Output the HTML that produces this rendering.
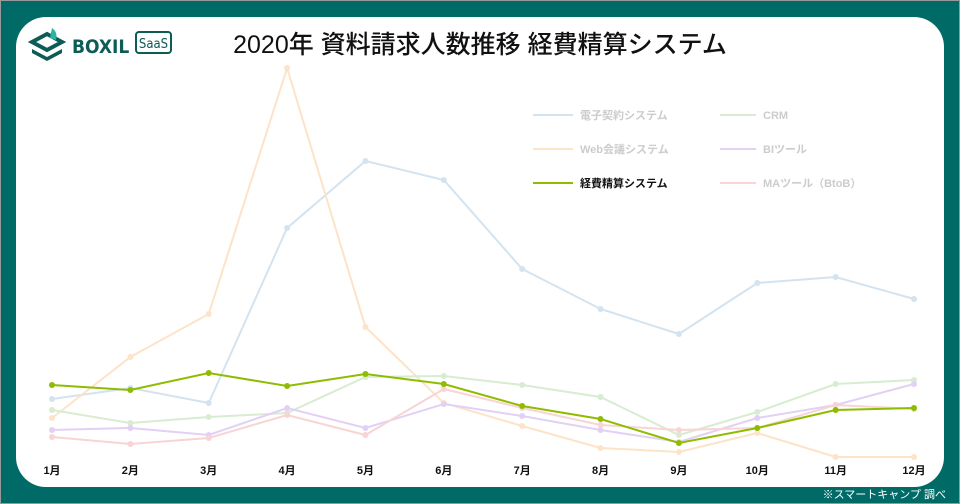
<!DOCTYPE html>
<html><head><meta charset="utf-8"><style>
html,body{margin:0;padding:0;}
body{width:960px;height:504px;background:#006a66;position:relative;overflow:hidden;font-family:"Liberation Sans","Noto Sans CJK JP",sans-serif;}
#frame{position:absolute;left:0;top:0;width:958px;height:502px;border:1px solid #999;}
#card{position:absolute;left:16px;top:17px;width:928px;height:470px;background:#fff;border-radius:30px;}
svg{position:absolute;left:0;top:0;}
</style></head><body>
<div id="frame"></div>
<div id="card"></div>
<svg id="chart" width="960" height="504">
<g>
<polygon points="32,42 47,34 62,42 47,50" fill="none" stroke="#0d5c56" stroke-width="4"/>
<polygon points="32,49 47,57 62,49 62,53 47,61 32,53" fill="#0d5c56"/>
<path d="M52,28 q6,4 4,12 l-6,-2 z" fill="#2bb3a3"/>
<text x="72" y="53" font-size="19" font-weight="bold" fill="#0d5c56" font-family="'DejaVu Sans Condensed','Liberation Sans',sans-serif">BOXIL</text>
<rect x="136" y="32" width="35" height="21" rx="3" fill="none" stroke="#0d5c56" stroke-width="2"/>
<text x="153.5" y="48" font-size="13" font-weight="500" fill="#0d5c56" text-anchor="middle" font-family="'DejaVu Sans Condensed','Liberation Sans',sans-serif">SaaS</text>
</g>
<text x="480" y="53" font-size="25" font-weight="500" text-anchor="middle" fill="#111">2020年 資料請求人数推移 経費精算システム</text>
<text x="946" y="498" font-size="11" fill="#fff" text-anchor="end">※スマートキャンプ 調べ</text>
<g id="legend"></g>
<g id="xaxis"></g>
<g id="series"></g>
</svg>
<script>
const months=["1月","2月","3月","4月","5月","6月","7月","8月","9月","10月","11月","12月"];
const denshi=[61,72,57,232,299,280,191,151,126,177,183,161];
const web=[42,103,146,392,133,57,34,12,8,27,3,3];
const crm=[50,37,43,47,83,84,75,63,25,48,76,80];
const bi=[30,32,25,52,32,56,44,30,18,42,55,76];
const ma=[23,16,22,45,25,71,52,35,30,32,55,51];
const keihi=[75,70,87,74,86,76,54,41,17,32,50,52];
const seriesNames=["電子契約システム","Web会議システム","経費精算システム","CRM","BIツール","MAツール（BtoB）"];
const NS="http://www.w3.org/2000/svg";
const xScale=i=>52+i*(914-52)/11;
const yScale=v=>460-v;
function mk(tag,attrs,parent){const e=document.createElementNS(NS,tag);for(const k in attrs)e.setAttribute(k,attrs[k]);parent.appendChild(e);return e;}
const xg=document.getElementById('xaxis');
months.forEach((m,i)=>{const t=mk('text',{x:xScale(i),y:474,'font-size':11,'font-weight':'bold','text-anchor':'middle',fill:'#111'},xg);t.textContent=m;

});
const defs=[
 {d:denshi,c:"#d3e3ef",w:2,n:"series-denshi-keiyaku"},
 {d:web,c:"#fde3c8",w:2,n:"series-web-kaigi"},
 {d:crm,c:"#d8ecd2",w:2,n:"series-crm"},
 {d:bi,c:"#e3d0f5",w:2,n:"series-bi-tool"},
 {d:ma,c:"#f8d4d4",w:2,n:"series-ma-tool"},
 {d:keihi,c:"#8fbc00",w:2,n:"series-keihi-seisan"}];
const sg=document.getElementById('series');
defs.forEach(s=>{const g=mk('g',{},sg);


mk('polyline',{points:s.d.map((v,i)=>xScale(i)+','+yScale(v)).join(' '),fill:'none',stroke:s.c,'stroke-width':s.w},g);
s.d.forEach((v,i)=>{const c=mk('circle',{cx:xScale(i),cy:yScale(v),r:3,fill:s.c},g);

});});
const lg=document.getElementById('legend');
const lcolors=["#d3e3ef","#fde3c8","#8fbc00","#d8ecd2","#e3d0f5","#f8d4d4"];
seriesNames.forEach((n,i)=>{const col=i<3?0:1,row=i%3;const x0=col?720:533,len=col?36:40,y=115+row*34;
const g=mk('g',{},lg);


mk('line',{x1:x0,x2:x0+len,y1:y,y2:y,stroke:lcolors[i],'stroke-width':2},g);
const t=mk('text',{x:x0+len+7,y:y+4,'font-size':11,'font-weight':'bold',fill:i==2?'#111':'#ccc'},g);t.textContent=n;});
</script>
</body></html>
